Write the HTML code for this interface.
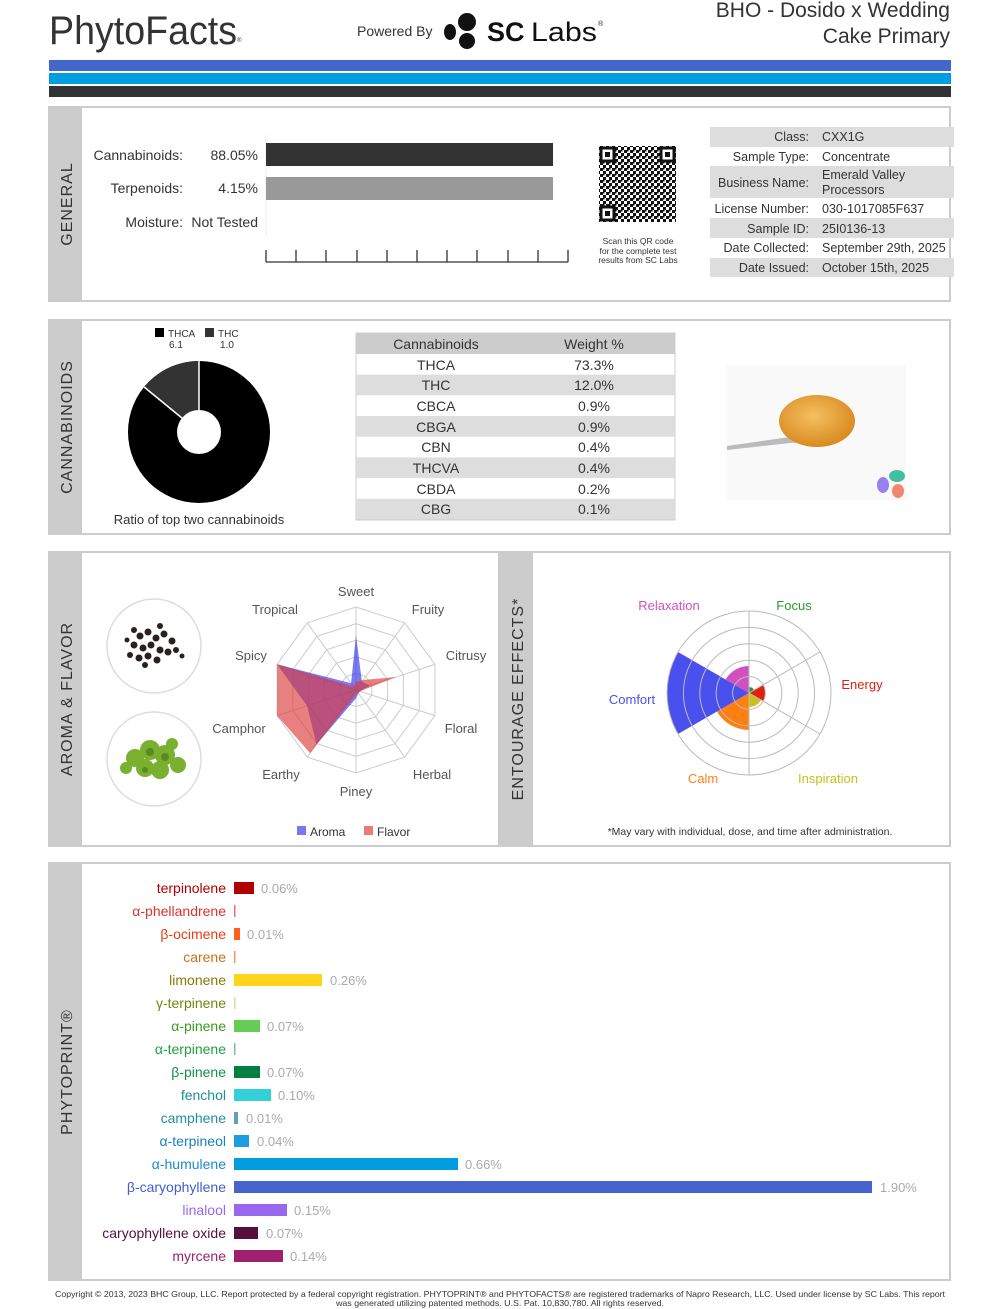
<!DOCTYPE html>
<html><head><meta charset="utf-8"><style>
html,body{margin:0;padding:0;background:#fff;}
svg{display:block;font-family:"Liberation Sans",sans-serif;}
</style></head><body>
<svg width="1000" height="1309" viewBox="0 0 1000 1309" xmlns="http://www.w3.org/2000/svg">
<defs>
<pattern id="qr" width="6" height="6" patternUnits="userSpaceOnUse">
<rect width="6" height="6" fill="#fff"/><rect x="0" y="0" width="3" height="3" fill="#111"/><rect x="3" y="3" width="3" height="3" fill="#111"/><rect x="3" y="0" width="1.5" height="1.5" fill="#111"/>
</pattern>
<radialGradient id="wax" cx="45%" cy="40%" r="60%"><stop offset="0" stop-color="#f5c060"/><stop offset="1" stop-color="#d98a20"/></radialGradient>
</defs>

<!-- HEADER -->
<text x="49" y="44" font-size="40" fill="#333" textLength="188" lengthAdjust="spacingAndGlyphs">PhytoFacts</text>
<text x="237" y="42" font-size="6" fill="#333">®</text>
<text x="357" y="36" font-size="14" fill="#333">Powered By</text>
<ellipse cx="467" cy="22" rx="9" ry="9" fill="#111"/>
<ellipse cx="450" cy="32" rx="6" ry="8" fill="#111"/>
<ellipse cx="467" cy="41" rx="8" ry="8" fill="#111"/>
<text x="487" y="41" font-size="27" font-weight="bold" fill="#111">SC</text>
<text x="531" y="41" font-size="27" fill="#111" textLength="66" lengthAdjust="spacingAndGlyphs">Labs</text>
<text x="598" y="26" font-size="7" fill="#111">®</text>
<text x="950" y="17" font-size="21" fill="#333" text-anchor="end">BHO - Dosido x Wedding</text>
<text x="950" y="43" font-size="21" fill="#333" text-anchor="end">Cake Primary</text>

<rect x="49" y="60" width="902" height="11" fill="#4466cc"/>
<rect x="49" y="73" width="902" height="11" fill="#009de0"/>
<rect x="49" y="86" width="902" height="11" fill="#333"/>

<!-- GENERAL -->
<rect x="49" y="107" width="901" height="194" fill="#fff" stroke="#ccc" stroke-width="2"/>
<rect x="49" y="107" width="33" height="194" fill="#ccc"/>
<text transform="translate(72,204) rotate(-90)" font-size="16" fill="#333" text-anchor="middle" letter-spacing="1">GENERAL</text>
<text x="183" y="160" font-size="14" fill="#333" text-anchor="end">Cannabinoids:</text>
<text x="258" y="160" font-size="14" fill="#333" text-anchor="end">88.05%</text>
<text x="183" y="193" font-size="14" fill="#333" text-anchor="end">Terpenoids:</text>
<text x="258" y="193" font-size="14" fill="#333" text-anchor="end">4.15%</text>
<text x="183" y="227" font-size="14" fill="#333" text-anchor="end">Moisture:</text>
<text x="258" y="227" font-size="14" fill="#333" text-anchor="end">Not Tested</text>
<line x1="266" y1="135" x2="266" y2="235" stroke="#eee"/>
<rect x="266" y="143" width="287" height="23" fill="#333"/>
<rect x="266" y="177" width="287" height="23" fill="#999"/>
<g stroke="#333" stroke-width="1.3">
<line x1="266" y1="262" x2="568" y2="262"/>
<line x1="266" y1="250" x2="266" y2="262"/><line x1="296" y1="250" x2="296" y2="262"/><line x1="326" y1="250" x2="326" y2="262"/><line x1="357" y1="250" x2="357" y2="262"/><line x1="387" y1="250" x2="387" y2="262"/><line x1="417" y1="250" x2="417" y2="262"/><line x1="447" y1="250" x2="447" y2="262"/><line x1="477" y1="250" x2="477" y2="262"/><line x1="508" y1="250" x2="508" y2="262"/><line x1="538" y1="250" x2="538" y2="262"/><line x1="568" y1="250" x2="568" y2="262"/>
</g>
<rect x="599" y="146" width="77" height="76" fill="url(#qr)"/>
<g fill="#fff" stroke="#111" stroke-width="3"><rect x="601" y="148" width="13" height="13"/><rect x="661" y="148" width="13" height="13"/><rect x="601" y="207" width="13" height="13"/></g>
<g fill="#111"><rect x="605" y="152" width="5" height="5"/><rect x="665" y="152" width="5" height="5"/><rect x="605" y="211" width="5" height="5"/></g>
<g font-size="8.5" fill="#333" text-anchor="middle"><text x="638" y="244">Scan this QR code</text><text x="638" y="254">for the complete test</text><text x="638" y="263">results from SC Labs</text></g>
<g fill="#ddd"><rect x="710" y="127" width="244" height="20"/><rect x="710" y="166" width="244" height="32"/><rect x="710" y="218" width="244" height="20"/><rect x="710" y="258" width="244" height="19"/></g>
<g font-size="12.5" fill="#333">
<g text-anchor="end"><text x="809" y="141">Class:</text><text x="809" y="161">Sample Type:</text><text x="809" y="187">Business Name:</text><text x="809" y="213">License Number:</text><text x="809" y="233">Sample ID:</text><text x="809" y="252">Date Collected:</text><text x="809" y="272">Date Issued:</text></g>
<text x="822" y="141">CXX1G</text><text x="822" y="161">Concentrate</text><text x="822" y="179">Emerald Valley</text><text x="822" y="194">Processors</text><text x="822" y="213">030-1017085F637</text><text x="822" y="233">25I0136-13</text><text x="822" y="252">September 29th, 2025</text><text x="822" y="272">October 15th, 2025</text>
</g>

<!-- CANNABINOIDS -->
<rect x="49" y="320" width="901" height="214" fill="#fff" stroke="#ccc" stroke-width="2"/>
<rect x="49" y="320" width="33" height="214" fill="#ccc"/>
<text transform="translate(72,427) rotate(-90)" font-size="16" fill="#333" text-anchor="middle" letter-spacing="1">CANNABINOIDS</text>
<rect x="155" y="328" width="9" height="9" fill="#000"/><text x="168" y="337" font-size="10" fill="#333">THCA</text>
<rect x="205" y="328" width="9" height="9" fill="#333"/><text x="218" y="337" font-size="10" fill="#333">THC</text>
<text x="169" y="348" font-size="10" fill="#333">6.1</text><text x="220" y="348" font-size="10" fill="#333">1.0</text>
<circle cx="199" cy="432" r="71" fill="#000"/>
<path d="M199,432 L199,361 A71,71 0 0 0 144.1,387 Z" fill="#333"/>
<line x1="199" y1="432" x2="199" y2="361" stroke="#fff" stroke-width="1.5"/>
<line x1="199" y1="432" x2="144.1" y2="387" stroke="#fff" stroke-width="1.5"/>
<circle cx="199" cy="432" r="22" fill="#fff"/>
<text x="199" y="524" font-size="13" fill="#333" text-anchor="middle">Ratio of top two cannabinoids</text>
<rect x="356" y="333" width="319" height="187" fill="#fff" stroke="#ccc"/>
<g fill="#ddd"><rect x="356" y="333" width="319" height="21" fill="#ccc"/><rect x="356" y="374.6" width="319" height="20.7"/><rect x="356" y="416" width="319" height="20.7"/><rect x="356" y="457.4" width="319" height="20.7"/><rect x="356" y="498.8" width="319" height="20.7"/></g>
<g font-size="14" fill="#333" text-anchor="middle">
<text x="436" y="349">Cannabinoids</text><text x="594" y="349">Weight %</text>
<text x="436" y="370">THCA</text><text x="594" y="370">73.3%</text>
<text x="436" y="390">THC</text><text x="594" y="390">12.0%</text>
<text x="436" y="411">CBCA</text><text x="594" y="411">0.9%</text>
<text x="436" y="432">CBGA</text><text x="594" y="432">0.9%</text>
<text x="436" y="452">CBN</text><text x="594" y="452">0.4%</text>
<text x="436" y="473">THCVA</text><text x="594" y="473">0.4%</text>
<text x="436" y="494">CBDA</text><text x="594" y="494">0.2%</text>
<text x="436" y="514">CBG</text><text x="594" y="514">0.1%</text>
</g>
<rect x="727" y="365" width="179" height="135" fill="#f9f9f9"/>
<path d="M727,446 L790,437 L812,437 L812,442 L790,443 L727,450 Z" fill="#bbb"/>
<ellipse cx="817" cy="421" rx="38" ry="26" fill="url(#wax)"/>
<ellipse cx="883" cy="485" rx="6" ry="8" fill="#9a80f0"/>
<ellipse cx="897" cy="476" rx="8" ry="6" fill="#40c0a0"/>
<ellipse cx="898" cy="491" rx="6" ry="7" fill="#f08870"/>

<!-- AROMA & FLAVOR -->
<rect x="49" y="552" width="901" height="294" fill="#fff" stroke="#ccc" stroke-width="2"/>
<rect x="49" y="552" width="33" height="294" fill="#ccc"/>
<rect x="498" y="552" width="35" height="294" fill="#ccc"/>
<text transform="translate(72,699) rotate(-90)" font-size="16" fill="#333" text-anchor="middle" letter-spacing="1">AROMA &amp; FLAVOR</text>
<text transform="translate(523,699) rotate(-90)" font-size="16" fill="#333" text-anchor="middle" letter-spacing="1">ENTOURAGE EFFECTS*</text>
<circle cx="154" cy="646" r="47" fill="#fff" stroke="#ddd" stroke-width="1.5"/>
<circle cx="154" cy="759" r="47" fill="#fff" stroke="#ddd" stroke-width="1.5"/>
<g fill="#2a2020">
<circle cx="140" cy="636" r="3.5"/><circle cx="148" cy="632" r="3.5"/><circle cx="156" cy="638" r="3.5"/><circle cx="164" cy="634" r="3.5"/><circle cx="172" cy="641" r="3.5"/><circle cx="134" cy="645" r="3.5"/><circle cx="143" cy="648" r="3.5"/><circle cx="151" cy="645" r="3.5"/><circle cx="160" cy="650" r="3.5"/><circle cx="168" cy="652" r="3.5"/><circle cx="130" cy="655" r="3"/><circle cx="139" cy="658" r="3.5"/><circle cx="148" cy="656" r="3.5"/><circle cx="157" cy="660" r="3.5"/><circle cx="176" cy="650" r="3"/><circle cx="145" cy="665" r="3"/><circle cx="134" cy="630" r="3"/><circle cx="160" cy="626" r="3"/><circle cx="182" cy="656" r="2.5"/><circle cx="127" cy="640" r="2.5"/>
</g>
<g fill="#7ab030">
<circle cx="135" cy="758" r="9"/><circle cx="150" cy="750" r="10"/><circle cx="165" cy="755" r="10"/><circle cx="178" cy="765" r="8"/><circle cx="145" cy="768" r="9"/><circle cx="160" cy="770" r="9"/><circle cx="126" cy="768" r="6"/><circle cx="172" cy="744" r="6"/>
</g>
<g fill="#5a8a20"><circle cx="150" cy="752" r="4"/><circle cx="165" cy="757" r="4"/><circle cx="145" cy="770" r="3"/></g>

<!-- radar -->
<g transform="translate(356,690)">
<g fill="none" stroke="#ccc" stroke-width="1">
<polygon points="0,-83 48.8,-67.1 78.9,-25.6 78.9,25.6 48.8,67.1 0,83 -48.8,67.1 -78.9,25.6 -78.9,-25.6 -48.8,-67.1"/>
<polygon points="0,-66.4 39.0,-53.7 63.2,-20.5 63.2,20.5 39.0,53.7 0,66.4 -39.0,53.7 -63.2,20.5 -63.2,-20.5 -39.0,-53.7"/>
<polygon points="0,-49.8 29.3,-40.3 47.4,-15.4 47.4,15.4 29.3,40.3 0,49.8 -29.3,40.3 -47.4,15.4 -47.4,-15.4 -29.3,-40.3"/>
<polygon points="0,-33.2 19.5,-26.9 31.6,-10.3 31.6,10.3 19.5,26.9 0,33.2 -19.5,26.9 -31.6,10.3 -31.6,-10.3 -19.5,-26.9"/>
<polygon points="0,-16.6 9.8,-13.4 15.8,-5.1 15.8,5.1 9.8,13.4 0,16.6 -9.8,13.4 -15.8,5.1 -15.8,-5.1 -9.8,-13.4"/>
<line x1="0" y1="-83" x2="0" y2="83"/><line x1="48.8" y1="-67.1" x2="-48.8" y2="67.1"/><line x1="78.9" y1="-25.6" x2="-78.9" y2="25.6"/><line x1="78.9" y1="25.6" x2="-78.9" y2="-25.6"/><line x1="48.8" y1="67.1" x2="-48.8" y2="-67.1"/>
</g>
<polygon fill="rgba(50,50,235,0.65)" points="0,-55 5.9,-8.1 14.2,-4.6 4,1.2 2.4,3.3 0,8.3 -39.5,54.4 -49,15.9 -78.9,-25.6 -4.9,-6.7"/>
<polygon fill="rgba(220,60,60,0.65)" points="0,-8.3 7.3,-10 40.3,-13 4,1.2 2.4,3.3 0,4.2 -45.9,63.1 -78.9,25.6 -78.9,-25.6 -2.4,-3.3"/>
</g>
<g font-size="13" fill="#555" text-anchor="middle">
<text x="356" y="596">Sweet</text><text x="428" y="614">Fruity</text><text x="466" y="660">Citrusy</text><text x="461" y="733">Floral</text><text x="432" y="779">Herbal</text><text x="356" y="796">Piney</text><text x="281" y="779">Earthy</text><text x="239" y="733">Camphor</text><text x="251" y="660">Spicy</text><text x="275" y="614">Tropical</text>
</g>
<rect x="297" y="826" width="9" height="9" fill="#7878f0"/><text x="310" y="836" font-size="12" fill="#333">Aroma</text>
<rect x="364" y="826" width="9" height="9" fill="#ec7a78"/><text x="377" y="836" font-size="12" fill="#333">Flavor</text>

<!-- polar -->
<path d="M749,693 L749,687 A6,6 0 0 1 754.2,690 Z" fill="#2a9a2a"/>
<path d="M749,693 L762.9,685 A16,16 0 0 1 762.9,701 Z" fill="#e02010"/>
<path d="M749,693 L761.1,700 A14,14 0 0 1 749,707 Z" fill="#c8c020"/>
<path d="M749,693 L749,730 A37,37 0 0 1 717,711.5 Z" fill="#ff8010"/>
<path d="M749,693 L678,734 A82,82 0 0 1 678,652 Z" fill="#4a50ee"/>
<path d="M749,693 L725.6,679.5 A27,27 0 0 1 749,666 Z" fill="#d050c0"/>
<g fill="none" stroke="#bbb" stroke-width="1">
<circle cx="749" cy="693" r="16.4"/><circle cx="749" cy="693" r="32.8"/><circle cx="749" cy="693" r="49.2"/><circle cx="749" cy="693" r="65.6"/><circle cx="749" cy="693" r="82"/>
<line x1="749" y1="611" x2="749" y2="775"/><line x1="820" y1="652" x2="749" y2="693"/><line x1="820" y1="734" x2="749" y2="693"/>
</g>
<g font-size="13" text-anchor="middle">
<text x="669" y="610" fill="#d050c0">Relaxation</text><text x="794" y="610" fill="#2a9a2a">Focus</text><text x="862" y="689" fill="#e02010">Energy</text><text x="632" y="704" fill="#4a50ee">Comfort</text><text x="703" y="783" fill="#ff8010">Calm</text><text x="828" y="783" fill="#c8c020">Inspiration</text>
</g>
<text x="750" y="835" font-size="10.5" fill="#333" text-anchor="middle">*May vary with individual, dose, and time after administration.</text>

<!-- PHYTOPRINT -->
<rect x="49" y="863" width="901" height="417" fill="#fff" stroke="#ccc" stroke-width="2"/>
<rect x="49" y="863" width="33" height="417" fill="#ccc"/>
<text transform="translate(72,1072) rotate(-90)" font-size="16" fill="#333" text-anchor="middle" letter-spacing="1">PHYTOPRINT®</text>
<g font-size="14" text-anchor="end">
<text x="226" y="893" fill="#b00000">terpinolene</text>
<text x="226" y="916" fill="#e03030">α-phellandrene</text>
<text x="226" y="939" fill="#e84010">β-ocimene</text>
<text x="226" y="962" fill="#c87018">carene</text>
<text x="226" y="985" fill="#8a7a00">limonene</text>
<text x="226" y="1008" fill="#6a8a10">γ-terpinene</text>
<text x="226" y="1031" fill="#3a9a20">α-pinene</text>
<text x="226" y="1054" fill="#20a040">α-terpinene</text>
<text x="226" y="1077" fill="#10904a">β-pinene</text>
<text x="226" y="1100" fill="#1a9090">fenchol</text>
<text x="226" y="1123" fill="#2090a0">camphene</text>
<text x="226" y="1146" fill="#1a80c0">α-terpineol</text>
<text x="226" y="1169" fill="#1a8ad0">α-humulene</text>
<text x="226" y="1192" fill="#4060cc">β-caryophyllene</text>
<text x="226" y="1215" fill="#9966ee">linalool</text>
<text x="226" y="1238" fill="#551040">caryophyllene oxide</text>
<text x="226" y="1261" fill="#a02070">myrcene</text>
</g>
<rect x="234" y="882" width="20" height="12" fill="#b00000"/>
<rect x="234" y="905" width="1.5" height="12" fill="#f07070"/>
<rect x="234" y="928" width="6" height="12" fill="#ff6020"/>
<rect x="234" y="951" width="1.5" height="12" fill="#ff9060"/>
<rect x="234" y="974" width="88" height="12" fill="#ffd51a"/>
<rect x="234" y="997" width="1.5" height="12" fill="#d0e0a0"/>
<rect x="234" y="1020" width="26" height="12" fill="#66cc55"/>
<rect x="234" y="1043" width="1.5" height="12" fill="#80c0a0"/>
<rect x="234" y="1066" width="26" height="12" fill="#008040"/>
<rect x="234" y="1089" width="37" height="12" fill="#33d0d8"/>
<rect x="234" y="1112" width="4" height="12" fill="#60a0c0"/>
<rect x="234" y="1135" width="15" height="12" fill="#1a9ee0"/>
<rect x="234" y="1158" width="224" height="12" fill="#009de0"/>
<rect x="234" y="1181" width="638" height="12" fill="#4763cc"/>
<rect x="234" y="1204" width="53" height="12" fill="#9966ee"/>
<rect x="234" y="1227" width="24" height="12" fill="#551040"/>
<rect x="234" y="1250" width="49" height="12" fill="#a02070"/>
<g font-size="13" fill="#aaa">
<text x="261" y="893">0.06%</text><text x="247" y="939">0.01%</text><text x="330" y="985">0.26%</text><text x="267" y="1031">0.07%</text><text x="267" y="1077">0.07%</text><text x="278" y="1100">0.10%</text><text x="246" y="1123">0.01%</text><text x="257" y="1146">0.04%</text><text x="465" y="1169">0.66%</text><text x="880" y="1192">1.90%</text><text x="294" y="1215">0.15%</text><text x="266" y="1238">0.07%</text><text x="290" y="1261">0.14%</text>
</g>

<g font-size="8.3" fill="#333" text-anchor="middle">
<text x="500" y="1297" textLength="890" lengthAdjust="spacingAndGlyphs">Copyright © 2013, 2023 BHC Group, LLC. Report protected by a federal copyright registration. PHYTOPRINT® and PHYTOFACTS® are registered trademarks of Napro Research, LLC. Used under license by SC Labs. This report</text>
<text x="500" y="1306" textLength="328" lengthAdjust="spacingAndGlyphs">was generated utilizing patented methods. U.S. Pat. 10,830,780. All rights reserved.</text>
</g>
</svg>
</body></html>
